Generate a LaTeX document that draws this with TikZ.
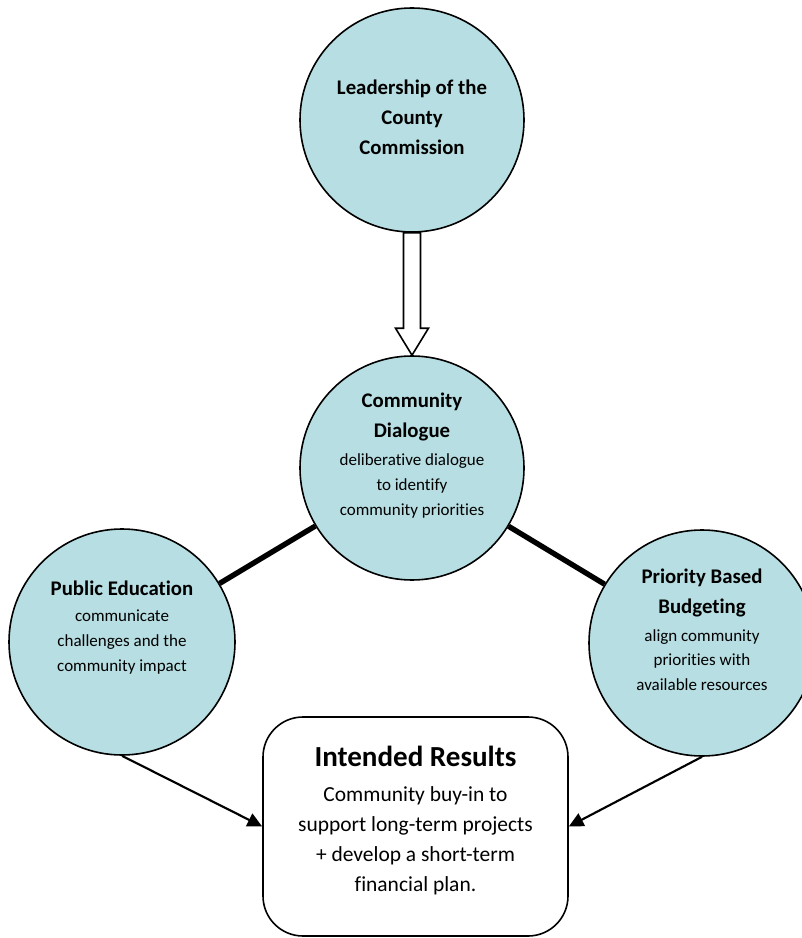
\documentclass[tikz,border=0pt]{standalone}
\usepackage{fontspec}
\setmainfont{Carlito}[Ligatures=NoCommon,Contextuals=NoAlternate]
\usetikzlibrary{arrows.meta,calc}
\definecolor{bubblefill}{RGB}{183,222,226}
\newcommand{\hdfont}{\fontsize{15.6}{22.5}\selectfont\bfseries}
\newcommand{\bdfont}{\fontsize{12.75}{18.5}\selectfont}
\newcommand{\hd}[1]{{\hdfont #1}}
\newcommand{\dropby}[1]{\rule[-#1]{0pt}{0pt}}

\tikzset{
  bubble/.style={circle,draw,line width=1.2pt,fill=bubblefill,inner sep=0pt,
    minimum size=#1,align=center,font=\bdfont},
  resultbox/.style={rectangle,draw,line width=1.2pt,rounded corners=30pt,
    minimum width=228.75pt,minimum height=164.25pt,align=center,
    font=\fontsize{16.1}{22.5}\selectfont},
  joint/.style={line width=4pt},
  feed/.style={line width=1.6pt,-{Triangle[length=11pt,width=10.5pt]}},
  hollow/.style={draw,line width=1.2pt,fill=white,line join=miter}
}

\begin{document}
\begin{tikzpicture}[x=0.75pt,y=-0.75pt]
\useasboundingbox (0,0) rectangle (802,938);

\node[bubble=168pt,font=\hdfont] (lead) at (412,120)
  {Leadership of the\\County\\Commission\dropby{4.5pt}};
\node[bubble=168pt] (dialog) at (412,468)
  {\hd{Community}\\[4pt]\hd{Dialogue}\\[2.5pt]deliberative dialogue\\to identify\\community priorities\dropby{20.5pt}};
\node[bubble=169.5pt] (pubed) at (122,642)
  {\hd{Public Education}\\[1pt]communicate\\challenges and the\\community impact\dropby{23.5pt}};
\node[bubble=169.5pt] (prio) at (702,643)
  {\hd{Priority Based}\\[4pt]\hd{Budgeting}\\[2pt]align community\\priorities with\\available resources\dropby{19.5pt}};
\node[resultbox] (result) at (415.5,826.5)
  {{\fontsize{21.8}{26}\selectfont\bfseries Intended Results}\\[3.5pt]Community buy-in to\\support long-term projects\\+ develop a short-term\\financial plan.\dropby{11.5pt}};

% hollow block arrow
\draw[hollow] ($(lead.south)+(-8.5,0)$) -- ($(dialog.north)+(-8.5,-27)$)
  -- ($(dialog.north)+(-16.5,-27)$) -- (dialog.north)
  -- ($(dialog.north)+(16.5,-27)$) -- ($(dialog.north)+(8.5,-27)$)
  -- ($(lead.south)+(8.5,0)$) -- cycle;

\draw[joint] (pubed) -- (dialog);
\draw[joint] (dialog) -- (prio);

\draw[feed] (pubed.south) -- (result.west);
\draw[feed] (prio.south) -- (result.east);
\end{tikzpicture}
\end{document}
